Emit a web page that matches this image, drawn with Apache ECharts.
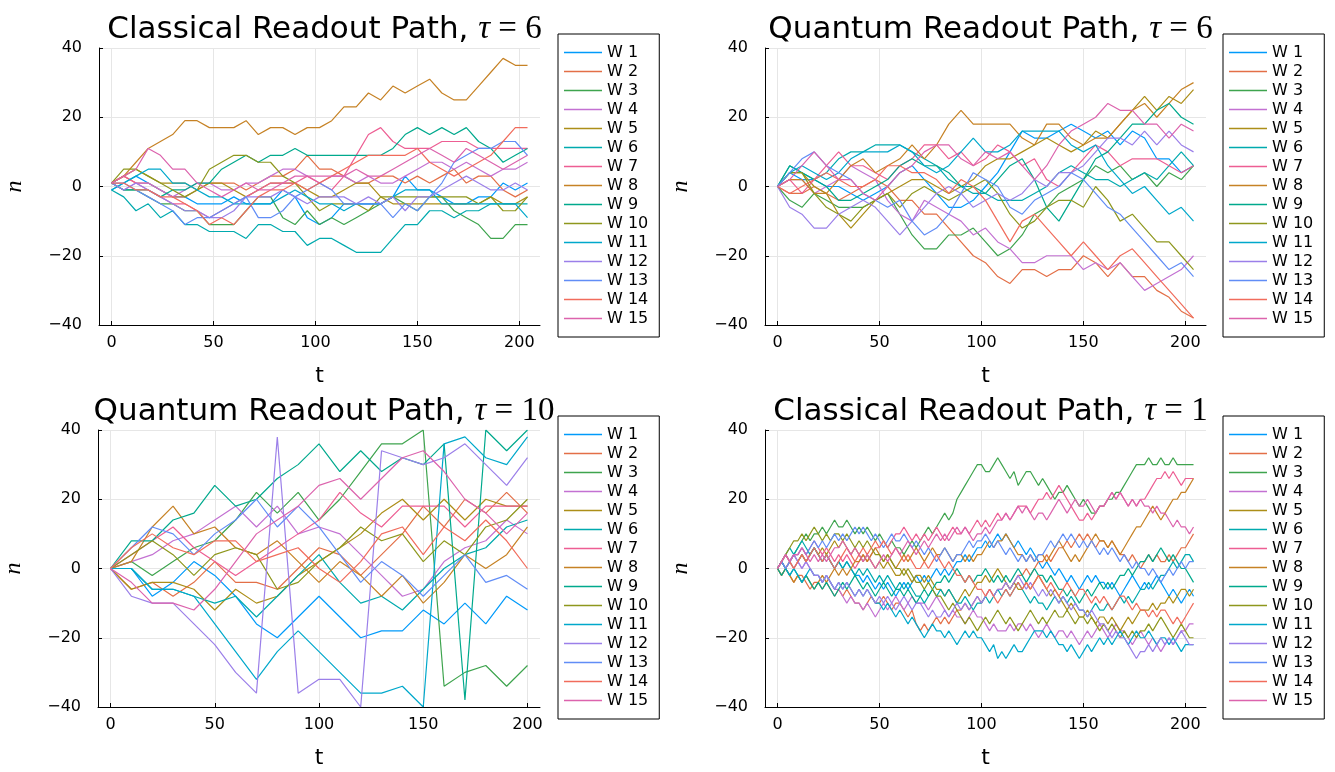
<!DOCTYPE html>
<html><head><meta charset="utf-8">
<script src="https://cdn.jsdelivr.net/npm/echarts@6/dist/echarts.min.js"></script>
<style>html,body{margin:0;padding:0;background:#fff}#c{width:1335px;height:772px}</style>
</head><body><div id="c"></div><script>
// ---------- names, colours, ticks ----------
const seriesNames = ['W 1','W 2','W 3','W 4','W 5','W 6','W 7','W 8','W 9','W 10','W 11','W 12','W 13','W 14','W 15'];
const palette = ['#009AFA','#E36F47','#3EA44E','#C371D2','#AC8E18','#00AAAE','#ED5E93','#C68225','#00A98D','#8E971D','#00A8CB','#9B7FE9','#618DF6','#F16C5C','#DC63AD'];
const xTicks = [0,50,100,150,200];
const yTicks = [-40,-20,0,20,40];
const panelTitles = [
  ['Classical Readout Path, ','6'],
  ['Quantum Readout Path, ','6'],
  ['Quantum Readout Path, ','10'],
  ['Classical Readout Path, ','1']
];
// time step between stored samples for each panel
const stepClassical6 = 6, stepQuantum6 = 6, stepQuantum10 = 10, stepClassical1 = 2;

// ---------- Panel 1: Classical, tau = 6 (t = 0,6,...,204) ----------
const classical6 = [
 [-1,1,3,1,-1,-3,-3,-5,-5,-5,-3,-5,-5,-5,-1,-3,-9,-11,-9,-5,-5,-5,-5,-3,3,-1,-1,-3,-5,-5,-3,-3,1,-1,1],
 [1,3,1,1,-1,-3,-3,-1,1,1,1,-1,1,3,3,5,9,5,5,3,1,1,3,3,1,3,1,3,5,1,3,3,-1,-3,-1],
 [1,-1,-1,-3,-5,-5,-7,-7,-11,-11,-11,-7,-3,-3,-9,-11,-7,-11,-9,-11,-9,-7,-5,-3,-5,-7,-3,-3,-7,-9,-11,-15,-15,-11,-11],
 [1,-1,1,1,-1,-3,-1,1,1,-1,-1,1,1,3,5,5,3,1,3,3,1,3,1,1,3,5,7,7,5,7,5,3,5,5,7],
 [1,3,5,3,1,1,1,-1,1,1,-1,-3,-1,1,1,1,-1,-3,-3,-1,1,1,-3,-5,-5,-5,-5,-5,-5,-5,-5,-3,-5,-5,-3],
 [-1,-3,-7,-5,-9,-7,-11,-11,-13,-13,-13,-15,-11,-11,-13,-13,-17,-15,-15,-17,-19,-19,-19,-15,-11,-11,-7,-7,-9,-7,-7,-5,-5,-5,-5],
 [1,3,1,-1,-3,-5,-5,-7,-9,-7,-5,-3,-1,1,1,1,3,1,-1,3,9,15,17,13,11,11,11,13,13,13,11,11,11,11,11],
 [1,3,7,11,13,15,19,19,17,17,17,19,15,17,17,15,17,17,19,23,23,27,25,29,27,29,31,27,25,25,29,33,37,35,35],
 [1,-1,-1,-1,-3,-1,-1,1,1,5,7,9,7,9,9,11,9,9,9,9,9,9,9,11,15,17,15,17,15,17,13,11,7,9,11],
 [1,5,5,3,1,-1,-3,-1,5,7,9,9,7,7,3,1,-3,-7,-5,-5,-5,-7,-3,-3,-3,-3,-3,-3,-3,-3,-5,-3,-7,-7,-3],
 [-1,1,3,5,5,1,1,-1,-3,-3,-5,-5,-5,-5,-3,-1,-3,-5,-5,-7,-5,-5,-5,-3,-1,-1,-1,-5,-5,-5,-5,-5,-5,-5,-9],
 [1,-1,1,-1,-3,-5,-7,-7,-9,-9,-7,-3,-3,-3,-1,-3,-5,-3,-3,-3,-5,-3,-5,-3,-7,-3,-3,-1,1,3,1,-1,-1,1,-1],
 [1,1,-1,-3,-5,-7,-11,-9,-9,-7,-5,-3,-9,-9,-7,-3,-1,1,-1,-5,-5,-5,-5,-9,-5,-7,-3,1,7,9,11,11,13,13,9],
 [1,1,-1,-1,-3,-3,-5,-7,-11,-9,-11,-7,-3,-1,-1,1,-1,1,3,5,7,9,9,9,9,11,7,5,3,5,7,9,13,17,17],
 [1,3,5,11,9,5,5,1,-1,-3,-1,1,-1,-1,1,3,3,3,3,3,5,3,3,5,7,9,11,9,7,11,9,7,5,7,9]
];

// ---------- Panel 2: Quantum, tau = 6 (t = 0,6,...,204) ----------
const quantum6 = [
 [0,4,2,2,0,0,-2,-4,-2,0,4,6,2,-2,-6,-6,-4,0,4,10,16,14,14,16,18,16,14,16,12,16,14,8,8,4,6],
 [0,-2,-2,0,-2,-4,-2,0,2,0,-4,-4,-8,-8,-12,-16,-20,-22,-26,-28,-24,-24,-26,-24,-24,-20,-22,-26,-22,-26,-26,-30,-32,-36,-38],
 [0,-4,-6,-2,-4,-6,-6,-6,-4,-2,-8,-14,-18,-18,-14,-14,-12,-16,-20,-18,-14,-8,-6,-2,0,2,6,4,6,2,4,0,4,2,6],
 [0,2,2,-2,0,2,6,4,2,-4,-8,-10,-4,-6,-8,-10,-14,-12,-16,-18,-22,-22,-20,-20,-20,-24,-22,-24,-22,-26,-30,-28,-26,-24,-20],
 [0,4,4,0,-2,-8,-12,-8,-4,-2,0,2,2,0,-2,0,2,6,8,8,10,12,14,12,10,12,16,14,18,22,26,22,26,24,28],
 [0,6,4,2,4,8,10,10,12,12,12,10,8,6,2,0,-2,-2,-4,-4,-4,-2,0,4,6,4,2,2,0,2,4,2,6,10,6],
 [0,2,-2,2,6,10,6,6,4,2,6,8,12,12,8,10,6,8,12,10,6,8,2,0,4,8,12,10,6,8,8,8,6,4,6],
 [0,2,2,-2,-2,2,6,8,4,6,8,12,8,12,18,22,18,18,18,18,14,12,18,18,14,12,14,14,18,22,24,20,24,28,30],
 [0,6,4,2,0,-4,-4,-2,0,2,6,8,6,6,4,0,0,-2,2,6,8,2,-6,-10,-4,2,8,10,14,18,18,22,24,20,18],
 [0,4,4,-2,-6,-8,-10,-6,-4,-2,-6,-2,0,-2,-4,-2,0,2,-2,-8,-12,-10,-6,-4,-4,-6,0,-4,-10,-8,-12,-16,-16,-20,-24],
 [0,4,6,4,2,4,8,10,10,10,12,10,6,4,6,10,14,10,10,12,16,16,16,16,12,10,12,6,2,-2,0,-4,-8,-6,-10],
 [0,-6,-8,-12,-12,-8,-6,-4,-6,-10,-14,-10,-6,-2,0,-2,-6,-4,-2,-4,-2,2,0,4,4,6,10,14,14,12,16,12,16,12,10],
 [0,4,8,10,6,4,2,-2,-4,-6,-4,-10,-14,-12,-8,-2,4,2,0,-6,-8,-4,-2,0,4,2,-2,-6,-8,-12,-16,-20,-24,-22,-26],
 [0,-2,0,2,4,2,0,0,2,6,6,4,4,2,-2,2,0,-4,-10,-16,-10,-8,-12,-16,-20,-16,-20,-24,-20,-18,-22,-26,-30,-34,-38],
 [0,2,6,10,6,2,2,-2,-4,0,4,6,10,12,12,8,6,10,8,10,6,2,6,12,16,18,20,24,22,22,18,18,14,18,16]
];

// ---------- Panel 3: Quantum, tau = 10 (t = 0,10,...,200) ----------
const quantum10 = [
 [0,0,-8,-4,2,-2,-8,-16,-20,-14,-8,-14,-20,-18,-18,-12,-16,-10,-16,-8,-12],
 [0,-6,-4,-8,-4,2,-4,-4,-6,0,6,4,-2,4,10,18,12,20,16,22,16],
 [0,2,-2,2,6,8,14,22,16,22,14,20,28,36,36,40,-34,-30,-28,-34,-28],
 [0,2,4,8,10,14,18,12,18,10,12,10,4,-2,-8,-6,2,6,8,14,10],
 [0,-6,-4,-4,-6,-12,-6,-10,-8,-2,2,6,10,16,20,14,20,14,20,18,18],
 [0,0,-6,-6,-8,-10,-8,-14,-8,-2,4,-4,-10,-8,-12,-6,0,4,6,12,14],
 [0,4,8,12,6,2,-2,2,6,10,14,22,16,12,18,18,18,12,18,18,18],
 [0,2,12,18,10,12,6,4,8,2,-4,2,-2,-8,-2,-10,-4,4,0,4,12],
 [0,8,8,14,16,24,18,20,26,30,36,28,34,28,32,30,36,-38,40,34,40],
 [0,4,8,4,-2,4,6,4,-6,-4,2,6,12,8,10,2,8,4,12,14,20],
 [0,0,-6,-6,-8,-16,-24,-32,-24,-18,-24,-30,-36,-36,-34,-40,36,38,32,30,38],
 [0,-8,-10,-10,-16,-22,-30,-36,38,-36,-32,-32,-40,34,32,30,32,36,30,24,32],
 [0,6,12,10,4,10,14,20,12,18,12,4,-4,2,-2,-8,-2,4,-4,-2,-6],
 [0,6,10,6,4,8,8,2,4,6,0,-4,2,10,12,4,12,8,14,8,0],
 [0,-4,-10,-10,-12,-6,2,10,14,18,24,26,20,26,32,34,28,20,16,10,16]
];

// ---------- Panel 4: Classical, tau = 1 (read every 2nd step, t = 0,2,...,204) ----------
const classical1 = [
 [0, 2,0,2,4,2, 4,2,4,6,4, 2,4,2,0,2, 0,2,0,-2,-2, -4,-2,-4,-6,-4, -6,-4,-6,-8,-6, -4,-6,-4,-2,-4, -2,-4,-2,0,-2, 0,-2,0,2,2, 4,2,4,6,6, 8,6,8,10,8, 10,8,6,8,6, 4,6,4,2,0, 2,0,-2,0,-2, -4,-2,-4,-6,-4, -2,-4,-2,-4,-4, -6,-4,-6,-8,-6, -4,-2,-4,-6,-4, -6,-4,-2,-4,-6, -8,-6,-8,-10,-8, -6,-8],
 [0, -2,0,-2,-4,-2, -2,-4,-6,-4,-4, -6,-4,-6,-8,-6, -8,-6,-8,-10,-10, -12,-10,-8,-10,-10, -8,-10,-12,-10,-10, -12,-14,-12,-16,-18, -16,-18,-16,-14,-16, -14,-16,-14,-12,-12, -10,-12,-10,-8,-10, -8,-6,-8,-6,-6, -4,-6,-4,-2,-2, 0,-2,0,2,2, 4,2,4,6,6, 8,6,8,10,8, 10,8,6,8,8, 6,8,6,4,4, 2,4,2,0,2, 4,2,4,2,2, 4,2,4,6,6, 8,10],
 [0, 2,4,2,4,6, 8,10,8,10,10, 12,10,12,14,12, 12,14,12,10,12, 10,12,10,8,10, 8,6,8,6,6, 4,6,8,6,8, 10,12,10,12,14, 16,14,16,20,22, 24,26,28,30,30, 28,28,30,32,30, 28,26,28,24,26, 28,28,26,24,26, 24,22,20,22,22, 24,22,20,18,20, 18,16,16,18,18, 20,20,22,22,24, 26,28,30,30,30, 32,30,30,32,30, 30,32,30,30,30, 30,30],
 [0, 2,0,2,4,2, 0,2,0,-2,-2, -4,-2,-4,-6,-6, -8,-10,-8,-10,-10, -12,-10,-12,-14,-12, -10,-12,-10,-8,-10, -12,-10,-8,-10,-10, -10,-12,-10,-8,-10, -12,-14,-12,-14,-14, -16,-14,-12,-14,-14, -16,-18,-16,-18,-18, -18,-16,-18,-16,-16, -18,-16,-18,-20,-18, -16,-18,-20,-18,-18, -20,-18,-20,-22,-20, -18,-20,-18,-16,-18, -20,-18,-16,-18,-18, -20,-22,-20,-18,-20, -22,-20,-22,-24,-22, -20,-22,-20,-18,-18, -16,-16],
 [0, 2,0,2,0,2, 4,2,4,6,4, 6,4,6,8,6, 8,6,4,6,4, 2,4,2,0,2, 0,2,0,-2,-2, 0,-2,-4,-2,-2, -4,-2,-4,-6,-6, -8,-6,-8,-10,-8, -6,-8,-6,-4,-4, -2,-4,-2,0,-2, -4,-6,-4,-6,-6, -4,-6,-4,-2,-4, -6,-8,-6,-8,-10, -12,-10,-12,-14,-14, -12,-14,-16,-14,-14, -16,-14,-16,-18,-16, -14,-16,-14,-12,-12, -12,-10,-12,-10,-10, -8,-10,-8,-6,-6, -8,-6],
 [0, 2,4,6,4,6, 8,6,4,6,4, 2,4,2,0,2, 0,2,0,-2,0, -2,0,-2,-4,-2, -4,-2,-4,-6,-4, -6,-4,-6,-8,-8, -10,-8,-6,-8,-6, -8,-6,-8,-10,-10, -8,-10,-12,-10,-10, -8,-10,-8,-6,-8, -6,-8,-6,-4,-6, -8,-10,-8,-10,-10, -12,-10,-8,-10,-8, -10,-8,-10,-12,-12, -14,-12,-10,-12,-12, -10,-12,-10,-8,-10, -8,-10,-8,-6,-6, -4,-6,-4,-2,-2, 0,2,0,2,4, 4,2],
 [0, 2,0,2,4,4, 6,4,6,8,6, 4,6,4,2,4, 2,4,2,0,2, 4,2,4,6,6, 8,6,8,10,10, 12,10,8,10,8, 10,8,10,12,10, 8,10,12,10,10, 12,10,12,14,12, 14,12,14,16,14, 16,14,16,18,18, 18,16,18,20,20, 22,20,22,24,22, 20,18,16,14,14, 16,14,16,18,18, 20,22,20,22,20, 18,20,18,20,20, 22,24,26,26,28, 26,28,26,24,26, 26,26],
 [0, -2,0,-2,-4,-2, -4,-2,-4,-6,-4, -2,-4,-2,0,-2, 0,-2,0,2,2, 4,2,4,6,4, 2,4,2,0,2, 4,2,4,6,4, 2,4,6,4,4, 6,4,2,4,4, 2,4,2,4,4, 6,8,6,8,8, 10,8,6,4,4, 2,4,2,4,4, 2,4,6,8,6, 4,2,4,2,4, 6,8,10,8,8, 6,8,6,4,6, 8,10,12,12,14, 16,18,16,14,16, 18,20,20,22,22, 24,26],
 [0, -2,0,-2,0,-2, -4,-2,-4,-6,-4, -6,-4,-6,-8,-6, -4,-6,-4,-2,-4, -6,-4,-6,-8,-6, -4,-6,-8,-6,-6, -8,-6,-8,-10,-8, -6,-8,-6,-4,-4, -2,-4,-2,0,-2, -4,-2,-4,-2,-2, 0,-2,-4,-2,-4, -2,-4,-2,0,-2, -4,-2,0,-2,-2, -4,-2,-4,-6,-6, -8,-6,-8,-10,-8, -6,-8,-6,-4,-6, -4,-6,-4,-2,-2, 0,-2,0,2,2, 4,2,4,6,4, 2,4,2,0,0, -2,-4],
 [0, 2,4,6,8,8, 10,8,10,12,10, 8,10,8,10,10, 8,10,8,6,8, 6,8,6,4,4, 2,4,2,0,0, -2,0,-2,-4,-4, -6,-4,-6,-8,-8, -10,-12,-10,-12,-14, -16,-14,-16,-18,-16, -14,-16,-14,-12,-14, -16,-14,-16,-18,-16, -14,-12,-14,-16,-14, -16,-14,-12,-14,-14, -12,-14,-16,-14,-14, -16,-14,-16,-18,-16, -18,-16,-18,-20,-18, -20,-18,-20,-18,-18, -16,-18,-16,-14,-16, -18,-20,-18,-16,-18, -20,-20],
 [0, 2,0,-2,0,-2, -4,-2,0,-2,-2, -4,-2,-4,-6,-4, -6,-4,-6,-8,-6, -8,-6,-8,-10,-10, -12,-10,-12,-14,-12, -14,-16,-14,-16,-18, -20,-18,-16,-18,-18, -20,-18,-20,-22,-20, -18,-20,-18,-20,-20, -22,-24,-22,-26,-24, -26,-24,-22,-24,-24, -22,-20,-18,-18,-18, -20,-18,-20,-22,-22, -24,-22,-24,-26,-24, -22,-24,-22,-20,-22, -20,-22,-20,-18,-20, -22,-20,-18,-20,-20, -18,-20,-22,-20,-20, -22,-20,-22,-24,-22, -22,-22],
 [0, 2,4,2,0,2, 0,2,0,-2,-2, -4,-2,-4,-6,-4, -6,-4,-6,-8,-6, -8,-6,-8,-10,-8, -10,-8,-10,-12,-10, -8,-10,-12,-10,-10, -12,-14,-12,-14,-14, -12,-14,-12,-10,-12, -10,-12,-10,-8,-10, -8,-6,-8,-6,-6, -4,-6,-4,-2,-4, -6,-4,-6,-8,-6, -8,-6,-8,-10,-8, -10,-12,-10,-12,-12, -14,-12,-14,-16,-16, -18,-20,-18,-20,-20, -22,-24,-26,-24,-24, -22,-24,-22,-20,-22, -20,-22,-20,-18,-20, -22,-22],
 [0, 2,0,2,4,4, 6,4,6,8,6, 8,6,8,10,8, 10,8,10,12,10, 12,10,8,10,8, 6,8,10,8,8, 10,8,6,8,6, 4,6,4,2,4, 6,4,2,4,4, 6,8,6,8,8, 10,8,6,8,6, 4,6,4,2,4, 2,4,2,4,4, 6,8,6,8,10, 8,10,8,6,8, 6,8,6,4,6, 4,6,4,2,4, 2,0,2,0,0, -2,0,-2,-4,-2, 0,-2,0,2,0, 2,2],
 [0, 2,4,2,0,2, 4,2,4,6,4, 2,4,2,0,2, 4,6,4,2,4, 6,4,6,8,6, 8,6,4,6,4, 2,4,2,0,0, 2,0,2,4,2, 0,2,0,-2,-2, -4,-2,-4,-6,-6, -8,-6,-8,-10,-8, -6,-8,-6,-4,-6, -4,-6,-4,-2,-4, -6,-4,-6,-8,-6, -4,-6,-8,-6,-6, -8,-10,-8,-10,-8, -10,-12,-10,-8,-8, -10,-12,-10,-12,-12, -14,-12,-14,-12,-12, -14,-16,-14,-16,-14, -12,-10],
 [0, 2,4,2,4,4, 6,4,2,4,2, 4,2,4,6,6, 8,6,4,6,4, 2,4,2,0,2, 4,2,4,6,4, 6,8,6,4,6, 8,6,8,10,8, 10,8,10,12,10, 12,10,8,10,10, 12,10,12,14,14, 16,14,16,18,16, 18,16,14,16,16, 14,16,18,20,18, 16,18,20,18,18, 20,18,16,18,18, 20,22,20,22,20, 18,20,18,20,18, 18,16,18,16,16, 14,12,14,12,12, 10,12]
];

// ---------- layout ----------
const panels = [
  {data: classical6, step: stepClassical6, grid:{left:99, top:48, width:441, height:277}, xr:[-6.12,210.12], legend:{left:558, top:34}},
  {data: quantum6,  step: stepQuantum6,  grid:{left:765, top:48, width:441, height:277}, xr:[-6.12,210.12], legend:{left:1223, top:34}},
  {data: quantum10, step: stepQuantum10, grid:{left:98, top:430, width:442, height:277}, xr:[-6,206], legend:{left:558, top:416}},
  {data: classical1, step: stepClassical1, grid:{left:765, top:430, width:441, height:277}, xr:[-6.12,210.12], legend:{left:1223, top:416}}
];

const SANS = 'DejaVu Sans';
const SERIF = 'Liberation Serif';
const gridColor = '#e6e6e6';

const option = {
  animation: false,
  backgroundColor: '#fff',
  textStyle: {fontFamily: SANS},
  grid: [], xAxis: [], yAxis: [], series: [], legend: [], title: []
};

panels.forEach((p, pi) => {
  option.grid.push(Object.assign({containLabel:false}, p.grid));
  option.xAxis.push({
    type:'value', gridIndex: pi, min: p.xr[0], max: p.xr[1],
    axisLine:{show:true, onZero:false, lineStyle:{color:'#000', width:1}},
    axisTick:{show:true, inside:true, length:4, lineStyle:{color:'#000', width:1}, customValues: xTicks},
    axisLabel:{show:true, customValues: xTicks, color:'#000', fontSize:16, fontFamily:SANS, margin:10},
    splitLine:{show:true, lineStyle:{color:gridColor, width:1}},
    name:'t', nameLocation:'middle', nameGap:40,
    nameTextStyle:{fontFamily:SANS, fontSize:22, color:'#000'}
  });
  option.yAxis.push({
    type:'value', gridIndex: pi, min: yTicks[0], max: yTicks[yTicks.length-1], interval: 20,
    axisLine:{show:true, onZero:false, lineStyle:{color:'#000', width:1}},
    axisTick:{show:true, inside:true, length:4, lineStyle:{color:'#000', width:1}},
    axisLabel:{show:true, color:'#000', fontSize:16, fontFamily:SANS, margin:17,
      formatter: v => (v < 0 ? '\u2212' + (-v) : String(v))},
    splitLine:{show:true, lineStyle:{color:gridColor, width:1}},
    name:'n', nameLocation:'middle', nameGap:72, nameRotate:90,
    nameTextStyle:{fontFamily:SERIF, fontStyle:'italic', fontSize:24, color:'#000'}
  });
  p.data.forEach((vals, k) => {
    option.series.push({
      type:'line', name: seriesNames[k], xAxisIndex: pi, yAxisIndex: pi,
      data: vals.map((v, i) => [i * p.step, v]),
      symbol:'none', showSymbol:false, silent:true, clip:true,
      lineStyle:{color: palette[k], width:1.2},
      itemStyle:{color: palette[k]},
      emphasis:{disabled:true}
    });
  });
  option.legend.push({
    show:true, orient:'vertical', left:p.legend.left, top:p.legend.top,
    data: seriesNames.map(n => ({name:n})),
    icon:'rect', itemWidth:38, itemHeight:1.6, itemGap:0,
    padding:[9,11,9,6], borderColor:'#000', borderWidth:1, backgroundColor:'#fff',
    textStyle:{fontFamily:SANS, fontSize:16, color:'#000', lineHeight:19},
    selectedMode:false
  });
  const cx = p.grid.left + p.grid.width / 2;
  option.title.push({
    text: '{s|' + panelTitles[pi][0] + '}{m|\u03c4}{r| = ' + panelTitles[pi][1] + '}',
    left: cx, top: p.grid.top - 40, textAlign:'center',
    textStyle:{fontWeight:'normal', rich:{
      s:{fontFamily:SANS, fontSize:31, fontWeight:'normal', color:'#000'},
      m:{fontFamily:SERIF, fontStyle:'italic', fontWeight:'normal', fontSize:33, color:'#000'},
      r:{fontFamily:SERIF, fontWeight:'normal', fontSize:33, color:'#000'}
    }}
  });
});

const chart = echarts.init(document.getElementById('c'), null, {renderer:'canvas'});
chart.setOption(option);
</script></body></html>
